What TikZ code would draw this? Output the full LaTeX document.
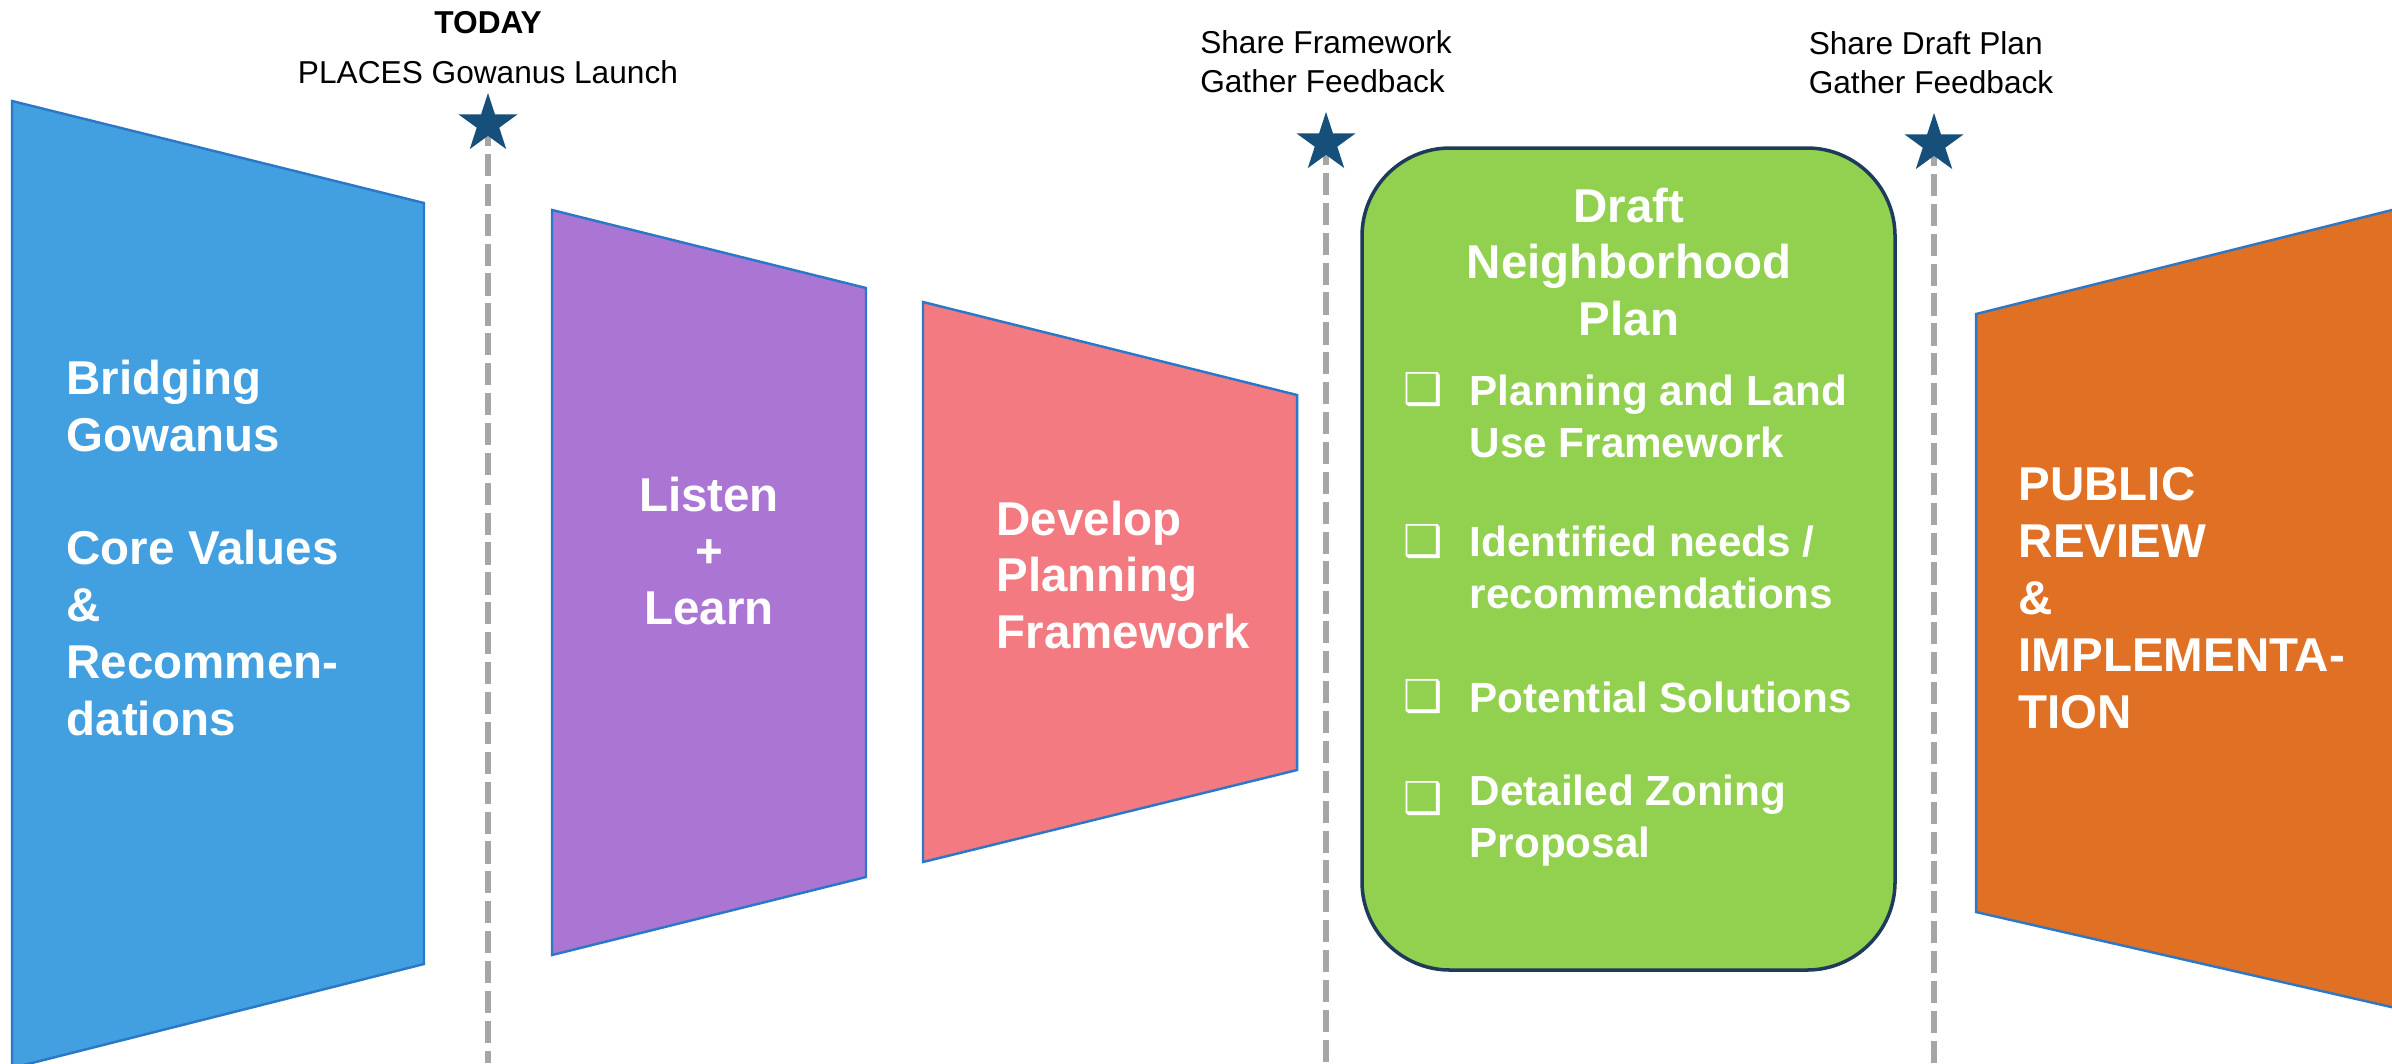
\documentclass[tikz,border=0pt]{standalone}
\usepackage{fontspec}
\setmainfont{Liberation Sans}
\newfontfamily\symbolfont{DejaVu Sans}
\usetikzlibrary{shapes.geometric,positioning}
\definecolor{coreblue}{HTML}{42A0E0}
\definecolor{listenpurple}{HTML}{AB75D4}
\definecolor{developpink}{HTML}{F27A80}
\definecolor{draftgreen}{HTML}{92D050}
\definecolor{reviewnavy}{HTML}{1F3B5C}
\definecolor{revieworange}{HTML}{E07024}
\definecolor{edgeblue}{HTML}{2B78C8}
\definecolor{starblue}{HTML}{16507A}
\definecolor{dashgray}{HTML}{A6A6A6}
\newcommand{\boxmark}{{\symbolfont\bfseries\fontsize{12.5}{12.5}\selectfont ❑}}

\begin{document}
\begin{tikzpicture}[
  x=0.01cm, y=-0.01cm,
  stage/.style={draw=edgeblue, line width=0.7pt},
  label/.style={text=white, font=\fontsize{13.5}{16.2}\selectfont\bfseries, inner sep=0pt},
  item/.style={text=white, font=\fontsize{12}{14.8}\selectfont\bfseries, align=left,
               anchor=west, inner sep=0pt},
  tick/.style={text=white, inner sep=0pt},
  milestone/.style={font=\fontsize{9}{11.1}\selectfont, inner sep=0pt},
  milestar/.style={star, star points=5, star point ratio=2.618, fill=starblue,
                   minimum size=0.62cm, inner sep=0pt},
  timeline/.style={draw=dashgray, line width=1.7pt, dash pattern=on 6.3pt off 2.2pt}
]
\useasboundingbox (0,0) rectangle (2392,1063);
\clip (0,0) rectangle (2392,1063);

% stages
\draw[stage, fill=coreblue] (12,101) -- (424,203) -- (424,964) -- (12,1068) -- cycle;
\draw[stage, fill=listenpurple] (552,210) -- (866,288) -- (866,877) -- (552,955) -- cycle;
\draw[stage, fill=developpink] (923,302) -- (1297,395) -- (1297,770) -- (923,862) -- cycle;
\draw[draw=reviewnavy, line width=1pt, fill=draftgreen, rounded corners=0.88cm]
  (1362,148) rectangle (1895,970);
\draw[stage, fill=revieworange] (1976,314) -- (2400,208) -- (2400,1009) -- (1976,912) -- cycle;

% milestones
\coordinate (m1) at (488,124);
\coordinate (m2) at (1326,143);
\coordinate (m3) at (1934,144);
\coordinate (m1end) at (488,1063);
\coordinate (m2end) at (1326,1063);
\coordinate (m3end) at (1934,1063);
\draw[timeline] (m1) -- (m1end);
\draw[timeline] (m2) -- (m2end);
\draw[timeline] (m3) -- (m3end);
\node[milestar] (star1) at (m1) {};
\node[milestar] (star2) at (m2) {};
\node[milestar] (star3) at (m3) {};

\node[milestone, font=\fontsize{9}{11.1}\selectfont\bfseries] (today) at (488,23) {TODAY};
\node[milestone] (launch) at (488,72) {PLACES Gowanus Launch};
\node[milestone, align=left] (sharefw) at (1326,62) {Share Framework\\Gather Feedback};
\node[milestone, align=left] (shareplan) at (1931,63) {Share Draft Plan\\Gather Feedback};

% stage labels
\node[label, align=left, anchor=west] (core) at (66,548)
  {Bridging\\Gowanus\\\mbox{}\\Core Values\\\&\\Recommen-\\dations};
\node[label, align=center] (listen) at (709,551) {Listen\\+\\Learn};
\node[label, align=left, anchor=west] (develop) at (996,575) {Develop\\Planning\\Framework};
\node[label, align=center] (draft) at (1629,262) {Draft\\Neighborhood\\Plan};
\node[label, align=left, anchor=west] (review) at (2018,598)
  {PUBLIC\\REVIEW\\\&\\IMPLEMENTA-\\TION};

% draft plan contents
\node[item] (landuse) at (1469,416) {Planning and Land\\Use Framework};
\node[item] (needs) at (1469,567) {Identified needs /\\recommendations};
\node[item] (solutions) at (1469,697) {Potential Solutions};
\node[item] (zoning) at (1469,821) {Detailed Zoning\\Proposal};
\node[tick] (tick1) at (1423,390) {\boxmark};
\node[tick] (tick2) at (1423,542) {\boxmark};
\node[tick] (tick3) at (1423,697) {\boxmark};
\node[tick] (tick4) at (1423,799) {\boxmark};
\end{tikzpicture}
\end{document}
